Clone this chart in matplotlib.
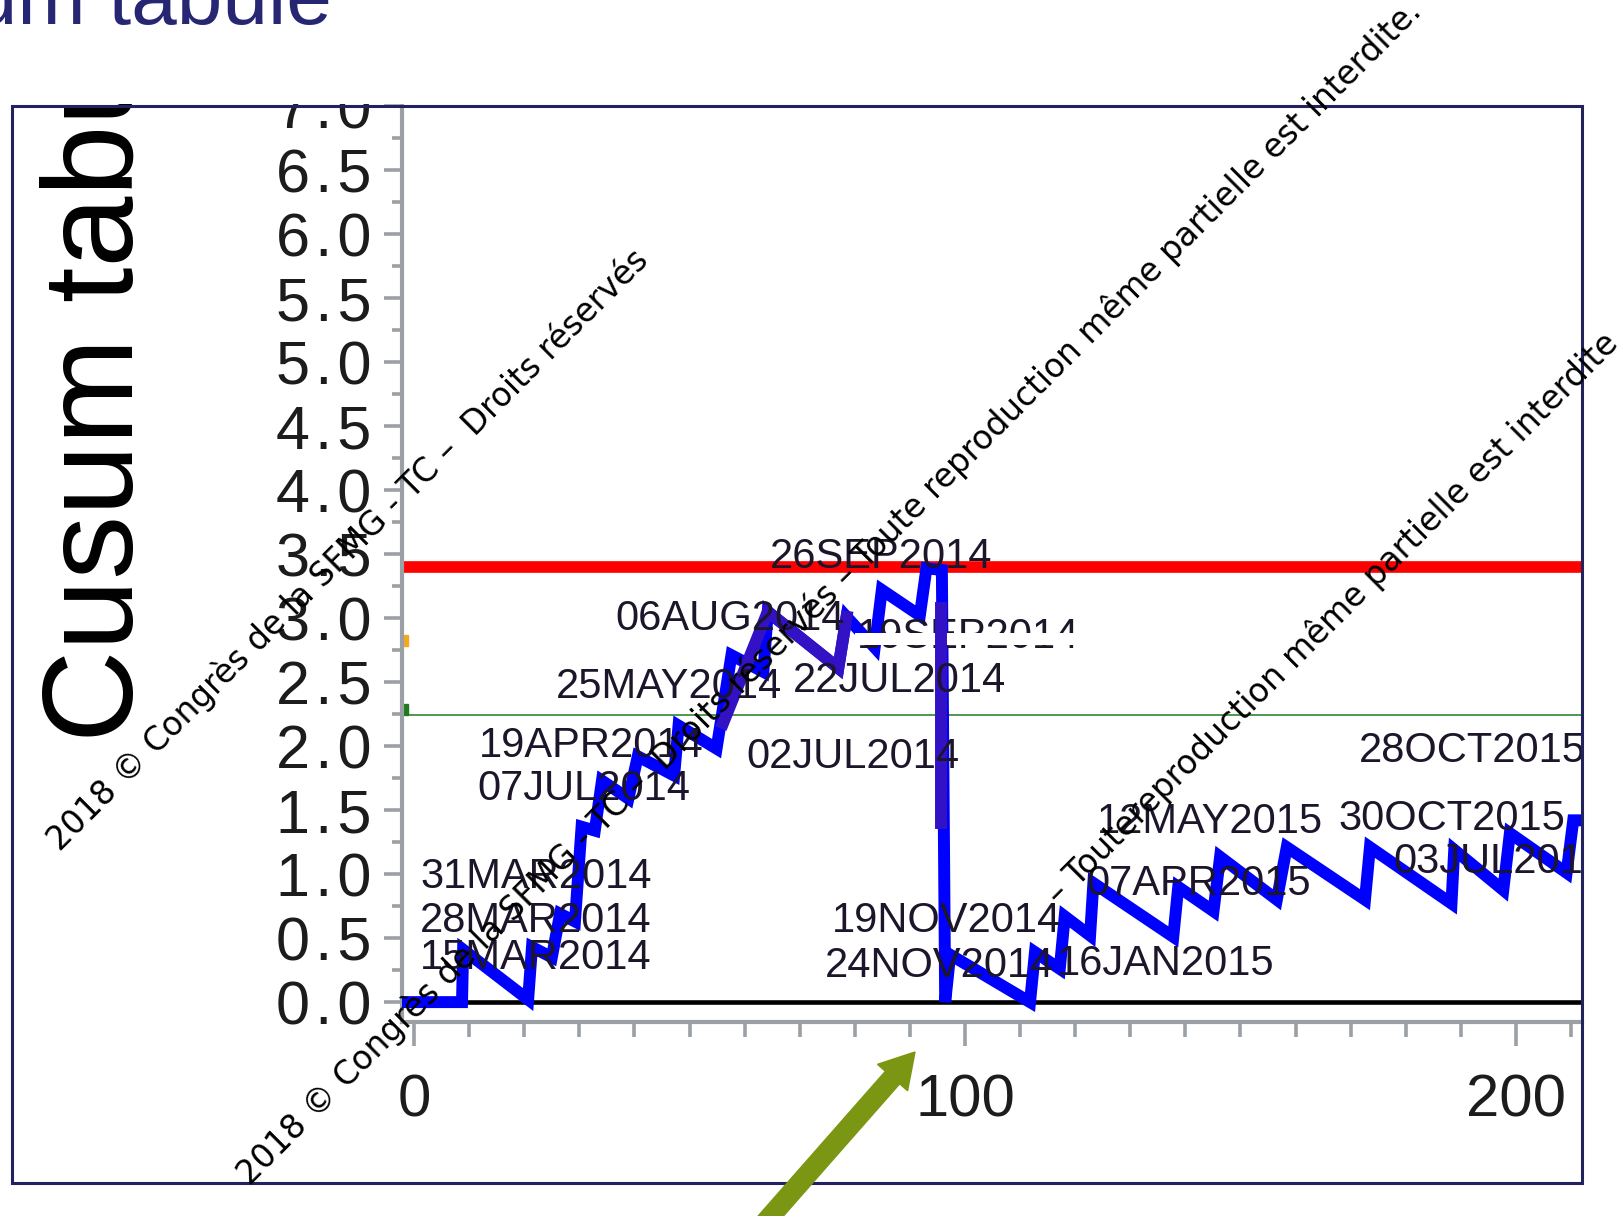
import matplotlib
matplotlib.use("Agg")
import matplotlib.pyplot as plt
from matplotlib.patches import Rectangle, FancyArrow
from matplotlib.transforms import IdentityTransform
from matplotlib.ticker import MultipleLocator, FuncFormatter

plt.rcParams["font.family"] = ["Liberation Sans", "DejaVu Sans"]

W, H = 1623, 1216

# tabulated cusum, observation index vs statistic
cusum_x = [-1.5, 8.7, 8.9, 20.7, 21.4, 25.0, 26.5, 29.2, 30.4, 32.8, 34.1, 38.9,
           40.6, 47.2, 48.0, 54.9, 57.6, 63.4, 64.2, 77.0, 78.5, 83.6, 84.9, 91.8,
           93.0, 95.8, 96.4, 97.3, 111.8, 112.7, 117.2, 118.1, 122.7, 123.3, 137.8,
           138.7, 145.1, 146.3, 156.6, 158.4, 172.6, 173.5, 188.3, 188.8, 197.7,
           198.9, 209.2, 210.4, 213.0]
cusum_y = [0.0, 0.0, 0.41, 0.02, 0.43, 0.35, 0.69, 0.63, 1.37, 1.34, 1.73, 1.59,
           1.92, 1.77, 2.16, 1.98, 2.71, 2.58, 3.05, 2.61, 3.01, 2.77, 3.22, 3.02,
           3.39, 3.375, 0.0, 0.37, 0.0, 0.39, 0.26, 0.67, 0.52, 0.93, 0.51,
           0.90, 0.71, 1.135, 0.80, 1.21, 0.80, 1.21, 0.77, 1.19, 0.875,
           1.32, 1.01, 1.42, 1.42]

# second trace laid over part of the path
trace_x = [56.1, 64.2, 77.0, 78.5]
trace_y = [2.18, 3.05, 2.61, 3.01]
drop_x = [95.6, 95.6]
drop_y = [3.08, 1.40]

h_limit = 3.40
k_line = 2.24

date_labels = ["15MAR2014", "28MAR2014", "31MAR2014", "07JUL2014", "19APR2014",
               "25MAY2014", "06AUG2014", "26SEP2014", "22JUL2014", "02JUL2014",
               "19NOV2014", "24NOV2014", "16JAN2015", "07APR2015", "12MAY2015",
               "30OCT2015", "03JUL2015", "28OCT2015"]
date_x = [1.1, 1.1, 1.1, 11.4, 11.8, 25.8, 36.5, 64.6, 68.8, 60.4,
          75.8, 74.6, 116.6, 122.1, 123.9, 167.7, 177.7, 171.4]
date_y = [0.255, 0.549, 0.888, 1.578, 1.916, 2.373, 2.906, 3.388, 2.424, 1.826,
          0.549, 0.198, 0.211, 0.836, 1.318, 1.344, 1.005, 1.877]
hidden_label = "19SEP2014"
hidden_x, hidden_y = 80.3, 2.77

fig = plt.figure(figsize=(W / 100, H / 100), dpi=100)


def fx(px):
    return px / W


def fy(py):
    return 1 - py / H


left, right, top, bottom = 401.7, 1581.5, 105.0, 1021.7
ax = fig.add_axes([fx(left), fy(bottom), (right - left) / W, (bottom - top) / H])
ax.set_xlim(-2.25, 211.9)
ax.set_ylim(-0.153, 7.008)

grey = "#9ba0a5"
for side in ["top", "right"]:
    ax.spines[side].set_visible(False)
for side in ["left", "bottom"]:
    ax.spines[side].set_color(grey)
    ax.spines[side].set_linewidth(3)

ax.xaxis.set_major_locator(MultipleLocator(100))
ax.xaxis.set_minor_locator(MultipleLocator(10))
ax.yaxis.set_major_locator(MultipleLocator(0.5))
ax.yaxis.set_minor_locator(MultipleLocator(0.25))
# wide-set y labels, hair space between characters
ax.yaxis.set_major_formatter(FuncFormatter(lambda v, pos: "\u200a".join(f"{v:.1f}")))
ax.tick_params(axis="y", which="major", length=13, width=2.6, color=grey, pad=9,
               labelsize=44, labelcolor="#1c1c1c")
ax.tick_params(axis="y", which="minor", length=7, width=2.6, color=grey)
ax.tick_params(axis="x", which="major", length=17, width=2.6, color=grey, pad=20,
               labelsize=43, labelcolor="#1c1c1c")
ax.tick_params(axis="x", which="minor", length=11, width=2.6, color=grey)

ax.axhline(h_limit, color="#ff0000", lw=8.4, zorder=2)
ax.axhline(k_line, color="#1e7b1e", lw=1.1, zorder=2)
ax.axhline(0, color="black", lw=3.3, zorder=2)
ax.add_patch(Rectangle((-1.8, 2.78), 0.7, 0.09, color="#f5a623", zorder=2))
ax.add_patch(Rectangle((-1.8, 2.24), 0.7, 0.09, color="#1f7a1f", zorder=2))

ax.plot(cusum_x, cusum_y, color="#0000ff", lw=8.6, zorder=3, solid_joinstyle="miter")
ax.plot(trace_x, trace_y, color="#3311c4", lw=8.6, zorder=4, solid_joinstyle="miter")
ax.plot(drop_x, drop_y, color="#3311c4", lw=8.6, zorder=4)

for lab, x, y in zip(date_labels, date_x, date_y):
    ax.text(x, y, lab, fontsize=30, color="#1d1529", ha="left", va="baseline",
            clip_on=True, zorder=5)
ax.text(hidden_x, hidden_y, hidden_label, fontsize=30, color="#1d1529",
        ha="left", va="baseline", clip_on=True, zorder=3.2)
ax.add_patch(Rectangle((80, 2.79), 42, 0.095, facecolor="white", edgecolor="none",
                       zorder=3.5))

# axis title, partly hidden under the slide header
fig.text(fx(133), fy(742), "Cusum tabulé", rotation=90, rotation_mode="anchor",
         ha="left", va="baseline", fontsize=92, color="black", zorder=1)

fig.add_artist(Rectangle((0, fy(104)), 1, 104 / H, transform=fig.transFigure,
                         facecolor="white", edgecolor="none", zorder=2))
fig.add_artist(Rectangle((fx(11.5), fy(1183)), (1581.5 - 11.5) / W, (1183 - 106) / H,
                         transform=fig.transFigure, fill=False,
                         edgecolor="#22225e", linewidth=2.2, zorder=3))
fig.text(fx(332), fy(24), "Cusum tabulé", ha="right", va="baseline", fontsize=59,
         color="#262673", zorder=3)

# copyright watermarks
wm1 = "2018 © Congrès de la SFMG - TC –  Droits réservés"
wm2 = ("2018 © Congrès de la SFMG - TC –  Droits réservés – Toute reproduction "
       "même partielle est interdite.")
wm3 = "– Toutereproduction même partielle est interdite"
for txt, px, py in [(wm1, 60, 852), (wm2, 250, 1186), (wm3, 1059, 906)]:
    fig.text(fx(px), fy(py), txt, rotation=45, rotation_mode="anchor", ha="left",
             va="baseline", fontsize=23.6, color="black", family="DejaVu Sans",
             zorder=4)

arrow = FancyArrow(762, -10, 153, 174, width=19, head_width=40, head_length=34,
                   length_includes_head=True, color="#7a9612",
                   transform=IdentityTransform(), zorder=5)
fig.add_artist(arrow)

fig.savefig("out.png", dpi=100, facecolor="white")
